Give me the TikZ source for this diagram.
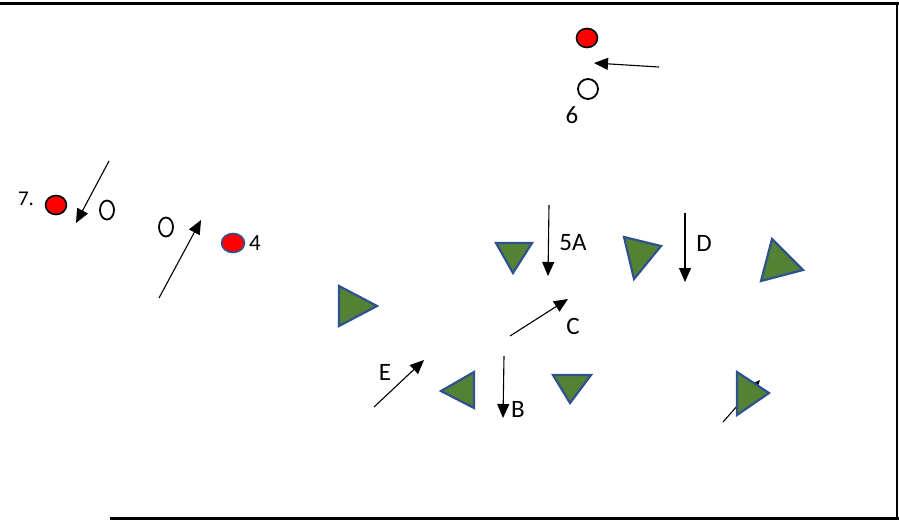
\documentclass[tikz,border=0pt]{standalone}
\usepackage{fontspec}
\setmainfont{Carlito}
\usetikzlibrary{arrows.meta,shapes.geometric}
\definecolor{conegreen}{HTML}{548235}
\definecolor{coneblue}{HTML}{2F528F}

\begin{document}
\begin{tikzpicture}[x=1pt,y=-1pt,
  run/.style={-{Triangle[length=14pt,width=12pt]},line width=1.1pt},
  cone/.style={draw=coneblue,fill=conegreen,line width=2.2pt,line join=miter},
  redball/.style={ellipse,draw,line width=1.6pt,fill=red,inner sep=0pt,minimum width=21pt,minimum height=19pt},
  openball/.style={ellipse,draw,line width=1.8pt,inner sep=0pt},
  lbl/.style={font=\fontsize{25}{25}\selectfont,inner sep=0pt}]
\useasboundingbox (0,0) rectangle (899,520);
% frame
\draw[line width=3pt] (0,3) -- (899,3);
\draw[line width=1.6pt] (897,3) -- (897,518);
\draw[line width=3pt] (110,518) -- (899,518);

% group 6
\node[redball] (r6) at (587,38) {};
\node[openball,minimum width=20pt,minimum height=20pt] (o6) at (588,89) {};
\node[lbl] (l6) at (572,115) {6};
\coordinate (s6) at (659,67);
\coordinate (e6) at (594,63);
\draw[run] (s6) -- (e6);

% group 7
\node[lbl,font=\fontsize{21}{21}\selectfont] (l7) at (26,199) {7.};
\node[redball] (r7) at (56,205) {};
\node[openball,minimum width=14pt,minimum height=19pt] (o7) at (107,210) {};
\coordinate (s7) at (109,161);
\coordinate (e7) at (76,223);
\draw[run] (s7) -- (e7);

% group 4
\node[openball,minimum width=14pt,minimum height=19pt] (o4) at (166,227) {};
\node[redball,draw=coneblue,minimum width=23pt,minimum height=19pt] (r4) at (233,243) {};
\node[lbl,font=\fontsize{23}{23}\selectfont] (l4) at (255,243) {4};
\coordinate (s4) at (159,298);
\coordinate (e4) at (201,220);
\draw[run] (s4) -- (e4);

% cones
\coordinate (t1a) at (339,286); \coordinate (t1b) at (339,326); \coordinate (t1c) at (377,306);
\draw[cone] (t1a) -- (t1b) -- (t1c) -- cycle;
\coordinate (t2a) at (496,243); \coordinate (t2b) at (532,243); \coordinate (t2c) at (513,273);
\draw[cone] (t2a) -- (t2b) -- (t2c) -- cycle;
\coordinate (t3a) at (624,237); \coordinate (t3b) at (661,246); \coordinate (t3c) at (634,279);
\draw[cone] (t3a) -- (t3b) -- (t3c) -- cycle;
\coordinate (t4a) at (772,239); \coordinate (t4b) at (803,270); \coordinate (t4c) at (761,281);
\draw[cone] (t4a) -- (t4b) -- (t4c) -- cycle;
\coordinate (t5a) at (474,372); \coordinate (t5b) at (474,408); \coordinate (t5c) at (441,391);
\draw[cone] (t5a) -- (t5b) -- (t5c) -- cycle;
\coordinate (t6a) at (553,375); \coordinate (t6b) at (591,375); \coordinate (t6c) at (570,403);
\draw[cone] (t6a) -- (t6b) -- (t6c) -- cycle;

% runs
\coordinate (sA) at (549,205); \coordinate (eA) at (548,276);
\draw[run] (sA) -- (eA);
\node[lbl] (lA) at (573,243) {5A};
\coordinate (sC) at (510,336); \coordinate (eC) at (568,299);
\draw[run] (sC) -- (eC);
\node[lbl] (lC) at (573,326) {C};
\coordinate (sD) at (685,213); \coordinate (eD) at (685,282);
\draw[run] (sD) -- (eD);
\node[lbl] (lD) at (704,243) {D};
\coordinate (sE) at (374,407); \coordinate (eE) at (424,360);
\draw[run] (sE) -- (eE);
\node[lbl] (lE) at (385,372) {E};
\coordinate (sB) at (504,356); \coordinate (eB) at (503,418);
\draw[run] (sB) -- (eB);
\node[lbl] (lB) at (518,409) {B};
\coordinate (sF) at (723,422); \coordinate (eF) at (760,380);
\draw[run] (sF) -- (eF);
\coordinate (t7a) at (737,372); \coordinate (t7b) at (737,415); \coordinate (t7c) at (769,393);
\draw[cone] (t7a) -- (t7b) -- (t7c) -- cycle;
\end{tikzpicture}
\end{document}
